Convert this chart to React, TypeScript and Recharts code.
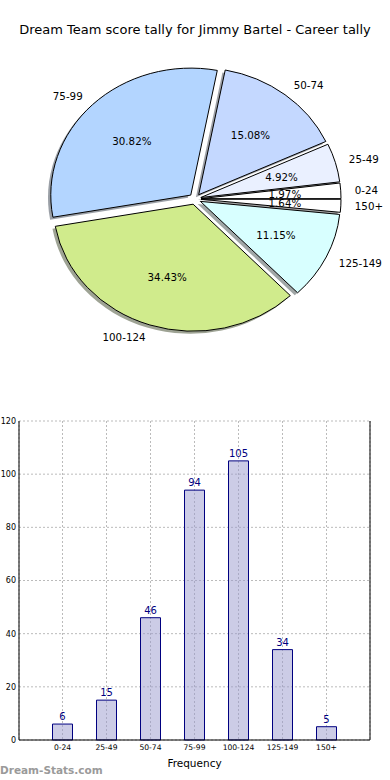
import React from "react";
import { PieChart, Pie, BarChart, Bar, XAxis, YAxis, CartesianGrid, LabelList, Label } from "recharts";

const categories = ["0-24", "25-49", "50-74", "75-99", "100-124", "125-149", "150+"];
const tallies = [6, 15, 46, 94, 105, 34, 5];
const sliceColors = ["#ffffff", "#eaf0ff", "#c4d8ff", "#b3d5ff", "#d0eb8c", "#d8ffff", "#ffffff"];
const yTicks = [0, 20, 40, 60, 80, 100, 120];

const rows = categories.map((name, i) => ({ name, value: tallies[i], color: sliceColors[i] }));

const FONT = "'DejaVu Sans', Verdana, sans-serif";
const SQUASH = 127 / 140; // the pie is an ellipse (no equal aspect)
const EXPLODE = 0.043;
const RAD = Math.PI / 180;

function darken(hex: string, f: number) {
  const n = parseInt(hex.slice(1), 16);
  const r = Math.round(((n >> 16) & 255) * f);
  const g = Math.round(((n >> 8) & 255) * f);
  const b = Math.round((n & 255) * f);
  return `rgb(${r},${g},${b})`;
}

function wedgePath(cx: number, cy: number, rx: number, ry: number, a0: number, a1: number) {
  const p = (a: number) => [cx + rx * Math.cos(a * RAD), cy - ry * Math.sin(a * RAD)];
  const [x0, y0] = p(a0);
  const [x1, y1] = p(a1);
  const large = Math.abs(a1 - a0) > 180 ? 1 : 0;
  return `M${cx},${cy} L${x0},${y0} A${rx},${ry} 0 ${large} 0 ${x1},${y1} Z`;
}

function exploded(props: any) {
  const { cx, cy, outerRadius, startAngle, endAngle } = props;
  const mid = props.midAngle ?? (startAngle + endAngle) / 2;
  const rx = outerRadius;
  const ry = outerRadius * SQUASH;
  const ox = cx + EXPLODE * rx * Math.cos(mid * RAD);
  const oy = cy - EXPLODE * ry * Math.sin(mid * RAD);
  return { ox, oy, rx, ry, mid };
}

function ShadowShape(props: any) {
  const { ox, oy, rx, ry } = exploded(props);
  const color = props.payload?.color ?? props.color ?? "#ffffff";
  return (
    <path
      d={wedgePath(ox - 0.02 * rx, oy + 0.02 * ry, rx, ry, props.startAngle, props.endAngle)}
      fill={darken(color, 0.3)}
      fillOpacity={0.5}
      stroke="none"
    />
  );
}

function WedgeShape(props: any) {
  const { ox, oy, rx, ry } = exploded(props);
  const color = props.payload?.color ?? props.color ?? "#ffffff";
  return (
    <path
      d={wedgePath(ox, oy, rx, ry, props.startAngle, props.endAngle)}
      fill={color}
      stroke="#000"
      strokeWidth={1}
      strokeLinejoin="round"
    />
  );
}

function renderPieLabel(props: any) {
  const { ox, oy, rx, ry, mid } = exploded(props);
  const c = Math.cos(mid * RAD);
  const s = Math.sin(mid * RAD);
  const name = props.payload?.name ?? props.name;
  const pct = (props.percent * 100).toFixed(2) + "%";
  return (
    <g>
      <text
        x={ox + 1.1 * rx * c}
        y={oy - 1.1 * ry * s}
        textAnchor={c >= 0 ? "start" : "end"}
        dominantBaseline="central"
        fontFamily={FONT}
        fontSize={10.3}
        fill="#000"
      >
        {name}
      </text>
      <text
        x={ox + 0.6 * rx * c}
        y={oy - 0.6 * ry * s}
        textAnchor="middle"
        dominantBaseline="central"
        fontFamily={FONT}
        fontSize={10.3}
        fill="#000"
      >
        {pct}
      </text>
    </g>
  );
}

export default function App() {
  return (
    <div style={{ position: "absolute", left: 0, top: 0, width: 390, height: 780, background: "#fff", fontFamily: FONT }}>
      <div
        style={{
          position: "absolute",
          top: 21,
          left: 0,
          width: 390,
          textAlign: "center",
          fontSize: 13,
          lineHeight: "18px",
          color: "#000",
        }}
      >
        Dream Team score tally for Jimmy Bartel - Career tally
      </div>

      <div style={{ position: "absolute", top: 0, left: 0 }}>
        <PieChart width={390} height={390} margin={{ top: 0, right: 0, bottom: 0, left: 0 }}>
          <Pie
            data={rows}
            dataKey="value"
            nameKey="name"
            cx={195}
            cy={199}
            outerRadius={140}
            startAngle={0}
            endAngle={360}
            shape={ShadowShape}
            labelLine={false}
            isAnimationActive={false}
          />
          <Pie
            data={rows}
            dataKey="value"
            nameKey="name"
            cx={195}
            cy={199}
            outerRadius={140}
            startAngle={0}
            endAngle={360}
            shape={WedgeShape}
            label={renderPieLabel}
            labelLine={false}
            isAnimationActive={false}
          />
        </PieChart>
      </div>

      <div style={{ position: "absolute", top: 400, left: 0 }}>
        <BarChart width={390} height={380} data={rows} margin={{ top: 21, right: 19, left: 0, bottom: 0 }}>
          <CartesianGrid stroke="#bbbbbb" strokeDasharray="2 2" />
          <XAxis
            dataKey="name"
            padding={{ left: 21.5, right: 21.5 }}
            height={40}
            tickLine={false}
            tickSize={2}
            tickMargin={3}
            axisLine={{ stroke: "#000" }}
            tick={{ fontSize: 7.6, fill: "#000", fontFamily: FONT }}
            interval={0}
          >
            <Label value="Frequency" position="insideBottom" offset={13} fontSize={10.5} fill="#000" fontFamily={FONT} />
          </XAxis>
          <XAxis
            xAxisId="top"
            orientation="top"
            dataKey="name"
            padding={{ left: 21.5, right: 21.5 }}
            height={0}
            tick={false}
            tickLine={false}
            axisLine={{ stroke: "#000" }}
          />
          <YAxis
            domain={[0, 120]}
            ticks={yTicks}
            width={19}
            tickLine={false}
            tickSize={1}
            tickMargin={2}
            axisLine={{ stroke: "#000" }}
            tick={{ fontSize: 8, fill: "#000", fontFamily: FONT }}
          />
          <YAxis
            yAxisId="right"
            orientation="right"
            domain={[0, 120]}
            ticks={yTicks}
            width={1}
            tick={false}
            tickLine={false}
            axisLine={{ stroke: "#000" }}
          />
          <Bar dataKey="value" barSize={20} fill="#9999cd" fillOpacity={0.5} stroke="#000080" strokeWidth={1} isAnimationActive={false}>
            <LabelList dataKey="value" position="top" offset={4} fill="#000080" fontSize={10} fontFamily={FONT} />
          </Bar>
        </BarChart>
      </div>

      <div
        style={{
          position: "absolute",
          left: 0,
          top: 763,
          fontSize: 10.5,
          fontWeight: "bold",
          color: "#9a9a9a",
          lineHeight: "14px",
        }}
      >
        Dream-Stats.com
      </div>
    </div>
  );
}
